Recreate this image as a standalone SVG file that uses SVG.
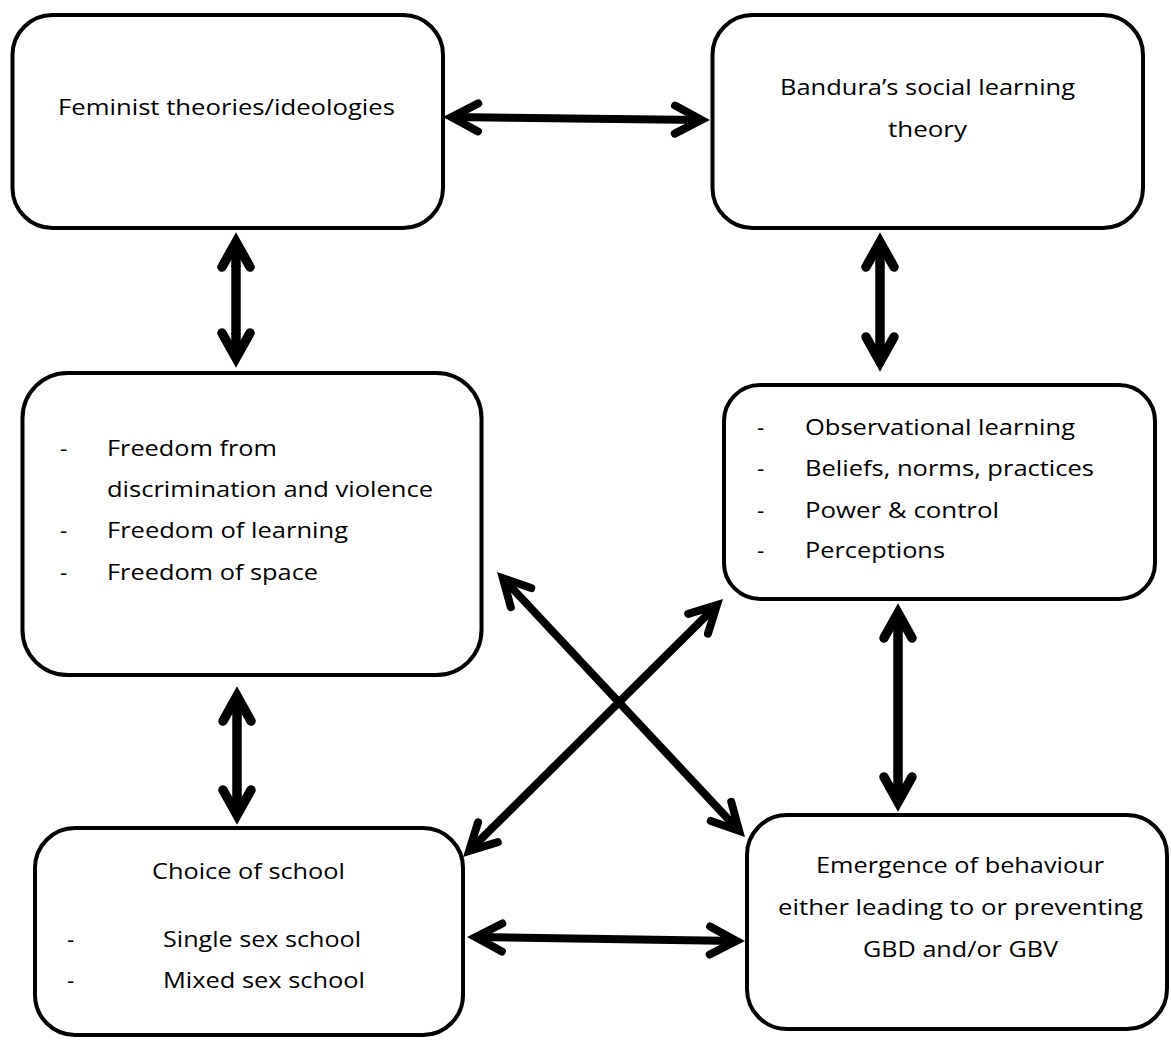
<svg xmlns="http://www.w3.org/2000/svg" width="1171" height="1041" viewBox="0 0 1171 1041">
<style>
.box{fill:#fff;stroke:#000;stroke-width:4}
.t{font-family:"Open Sans","Noto Sans","Liberation Sans",sans-serif;font-size:22.5px;fill:#000}
.ln{fill:none;stroke:#000;stroke-width:8}
.lv{fill:none;stroke:#000;stroke-width:9.5}
</style>
<defs>
<marker id="ah" markerUnits="userSpaceOnUse" orient="auto-start-reverse" refX="0" refY="0" markerWidth="10" markerHeight="10" style="overflow:visible">
<path d="M-26.5,-14 L0,0 L-26.5,14" fill="none" stroke="#000" stroke-width="8" stroke-linejoin="miter" stroke-linecap="round"/>
</marker>
<marker id="ahv" markerUnits="userSpaceOnUse" orient="auto-start-reverse" refX="0" refY="0" markerWidth="10" markerHeight="10" style="overflow:visible">
<path d="M-25,-14 L0,0 L-25,14" fill="none" stroke="#000" stroke-width="9.5" stroke-linejoin="miter" stroke-linecap="round"/>
</marker>
</defs>
<rect width="1171" height="1041" fill="#fff"/>
<g id="connectors">
<line class="ln" x1="451.6" y1="117.1" x2="701.4" y2="119.9" marker-start="url(#ah)" marker-end="url(#ah)"/>
<line class="lv" x1="236" y1="242" x2="236" y2="358" marker-start="url(#ahv)" marker-end="url(#ahv)"/>
<line class="lv" x1="237" y1="696" x2="237" y2="815" marker-start="url(#ahv)" marker-end="url(#ahv)"/>
<line class="lv" x1="880" y1="242" x2="880" y2="362" marker-start="url(#ahv)" marker-end="url(#ahv)"/>
<line class="lv" x1="898" y1="613" x2="898" y2="802" marker-start="url(#ahv)" marker-end="url(#ahv)"/>
<line class="ln" x1="475.6" y1="937.1" x2="736.4" y2="940.9" marker-start="url(#ah)" marker-end="url(#ah)"/>
<line class="ln" x1="502.9" y1="578.3" x2="739.1" y2="830.7" marker-start="url(#ah)" marker-end="url(#ah)"/>
<line class="ln" x1="716.9" y1="605.1" x2="469.1" y2="850.9" marker-start="url(#ah)" marker-end="url(#ah)"/>
</g>
<g id="feminist">
<rect class="box" x="12.5" y="15" width="430.5" height="213" rx="40"/>
<text class="t" x="58" y="115" textLength="337" lengthAdjust="spacingAndGlyphs">Feminist theories/ideologies</text>
</g>
<g id="bandura">
<rect class="box" x="712.5" y="15" width="430.5" height="213" rx="40"/>
<text class="t" x="780" y="95" textLength="295" lengthAdjust="spacingAndGlyphs">Bandura’s social learning</text>
<text class="t" x="888" y="137" textLength="79" lengthAdjust="spacingAndGlyphs">theory</text>
</g>
<g id="freedom">
<rect class="box" x="22.5" y="373" width="459" height="302" rx="45"/>
<text class="t" x="60" y="456">-</text>
<text class="t" x="107" y="456" textLength="170" lengthAdjust="spacingAndGlyphs">Freedom from</text>
<text class="t" x="107" y="497" textLength="326" lengthAdjust="spacingAndGlyphs">discrimination and violence</text>
<text class="t" x="60" y="538">-</text>
<text class="t" x="107" y="538" textLength="241" lengthAdjust="spacingAndGlyphs">Freedom of learning</text>
<text class="t" x="60" y="580">-</text>
<text class="t" x="107" y="580" textLength="211" lengthAdjust="spacingAndGlyphs">Freedom of space</text>
</g>
<g id="observational">
<rect class="box" x="724" y="385" width="431" height="214" rx="36"/>
<text class="t" x="757" y="435">-</text>
<text class="t" x="805" y="435" textLength="270" lengthAdjust="spacingAndGlyphs">Observational learning</text>
<text class="t" x="757" y="476">-</text>
<text class="t" x="805" y="476" textLength="289" lengthAdjust="spacingAndGlyphs">Beliefs, norms, practices</text>
<text class="t" x="757" y="518">-</text>
<text class="t" x="805" y="518" textLength="194" lengthAdjust="spacingAndGlyphs">Power &amp; control</text>
<text class="t" x="757" y="558">-</text>
<text class="t" x="805" y="558" textLength="140" lengthAdjust="spacingAndGlyphs">Perceptions</text>
</g>
<g id="choice">
<rect class="box" x="35" y="828" width="428" height="207" rx="40"/>
<text class="t" x="152" y="879" textLength="193" lengthAdjust="spacingAndGlyphs">Choice of school</text>
<text class="t" x="67" y="947">-</text>
<text class="t" x="163" y="947" textLength="198" lengthAdjust="spacingAndGlyphs">Single sex school</text>
<text class="t" x="67" y="988">-</text>
<text class="t" x="163" y="988" textLength="202" lengthAdjust="spacingAndGlyphs">Mixed sex school</text>
</g>
<g id="emergence">
<rect class="box" x="747" y="815" width="420" height="214" rx="40"/>
<text class="t" x="816" y="873" textLength="288" lengthAdjust="spacingAndGlyphs">Emergence of behaviour</text>
<text class="t" x="778" y="915" textLength="365" lengthAdjust="spacingAndGlyphs">either leading to or preventing</text>
<text class="t" x="863" y="957" textLength="195" lengthAdjust="spacingAndGlyphs">GBD and/or GBV</text>
</g>
</svg>
